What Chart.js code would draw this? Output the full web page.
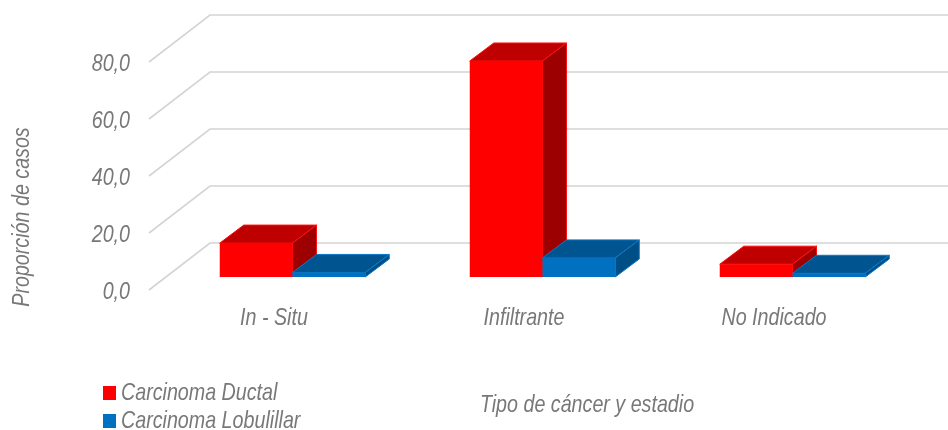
<!DOCTYPE html>
<html><head><meta charset="utf-8">
<style>html,body{margin:0;padding:0;background:#fff}canvas{display:block}</style>
<script src="https://cdn.jsdelivr.net/npm/chart.js@4"></script>
</head><body><canvas id="c" width="948" height="430"></canvas>
<script>
const categories = ["In - Situ", "Infiltrante", "No Indicado"];
const ductal = [11.9, 75.8, 4.5];
const lobulillar = [1.6, 6.7, 1.3];
const yTicks = [0, 20, 40, 60, 80];
const seriesNames = ["Carcinoma Ductal", "Carcinoma Lobulillar"];
const yTitle = "Proporción de casos";
const xTitle = "Tipo de cáncer y estadio";

const FONT = '"Liberation Sans",sans-serif';
const GREY = '#787878';
const NARROW = 0.82;
const shades = [
  {front:'#ff0000', top:'#bf0000', side:'#9c0000', edge:'#ff1010'},
  {front:'#0070c0', top:'#00548f', side:'#004e86', edge:'#0a78c8'}
];
const plane = {dx:18.5, dy:-13};
const wall = {dx:61, dy:-47};
const depth = {dx:24, dy:-18};

const poly = (ctx, pts, fill, edge) => {
  ctx.beginPath();
  pts.forEach((p,i)=> i ? ctx.lineTo(p[0],p[1]) : ctx.moveTo(p[0],p[1]));
  ctx.closePath();
  ctx.fillStyle = fill; ctx.fill();
  ctx.strokeStyle = edge; ctx.lineWidth = 1; ctx.stroke();
};

const canvas = document.getElementById('c');
const rawCtx = canvas.getContext('2d');
const rawFill = rawCtx.fillText.bind(rawCtx);
rawCtx.fillText = (t,x,y) => {
  rawCtx.save();
  rawCtx.translate(x,y);
  rawCtx.scale(NARROW,1);
  rawFill(t,0,0);
  rawCtx.restore();
};

const scene = {
  id:'scene',
  beforeDatasetsDraw(chart){
    const {ctx, chartArea:a, scales:{y}} = chart;
    ctx.save();
    ctx.strokeStyle = '#d4d4d4'; ctx.lineWidth = 1.6;
    yTicks.forEach(v=>{
      const py = y.getPixelForValue(v);
      ctx.beginPath();
      ctx.moveTo(a.left, py);
      ctx.lineTo(a.left+wall.dx, py+wall.dy);
      ctx.lineTo(chart.width, py+wall.dy);
      ctx.stroke();
    });
    ctx.restore();
  },
  beforeDatasetDraw(){ return false; },
  afterDatasetsDraw(chart){
    const {ctx} = chart;
    ctx.save();
    ctx.translate(plane.dx, plane.dy);
    chart.data.datasets.forEach((d,i)=>{
      const s = shades[i];
      chart.getDatasetMeta(i).data.forEach(b=>{
        const l=b.x-b.width/2, r=b.x+b.width/2, t=b.y, f=b.base;
        poly(ctx,[[l,t],[l+depth.dx,t+depth.dy],[r+depth.dx,t+depth.dy],[r,t]],s.top,s.edge);
        poly(ctx,[[r,t],[r+depth.dx,t+depth.dy],[r+depth.dx,f+depth.dy],[r,f]],s.side,s.edge);
        b.draw(ctx);
      });
    });
    ctx.restore();
  },
  afterDraw(chart){
    const {ctx} = chart;
    ctx.save();
    ctx.fillStyle = GREY;
    ctx.font = 'italic 24px '+FONT;
    ctx.textBaseline = 'middle';
    ctx.textAlign = 'center';
    ctx.fillText(xTitle, 587, 405);
    ctx.textAlign = 'left';
    const rows = [393, 421];
    chart.data.datasets.forEach((d,i)=>{
      ctx.fillStyle = d.backgroundColor;
      ctx.fillRect(103, rows[i]-7, 13, 14);
      ctx.fillStyle = GREY;
      ctx.fillText(d.label, 121, rows[i]);
    });
    ctx.translate(22, 217);
    ctx.rotate(-Math.PI/2);
    ctx.textAlign = 'center';
    ctx.fillText(yTitle, 0, 0);
    ctx.restore();
  }
};

new Chart(canvas, {
  type:'bar',
  data:{labels:categories, datasets:[
    {label:seriesNames[0], data:ductal, backgroundColor:shades[0].front, clip:false},
    {label:seriesNames[1], data:lobulillar, backgroundColor:shades[1].front, clip:false}
  ]},
  options:{
    responsive:false, animation:false,
    layout:{padding:{top:62,right:49,left:0,bottom:0}},
    categoryPercentage:0.582, barPercentage:1,
    plugins:{legend:{display:false},tooltip:{enabled:false},title:{display:false}},
    scales:{
      x:{grid:{display:false},border:{display:false},
         ticks:{color:GREY,font:{family:FONT,size:24,style:'italic'},padding:6,maxRotation:0},
         afterFit(s){s.height=140;}},
      y:{min:0,max:80,grid:{display:false},border:{display:false},
         afterBuildTicks(s){s.ticks=yTicks.map(v=>({value:v}));},
         ticks:{color:GREY,font:{family:FONT,size:24,style:'italic'},padding:11,labelOffset:2,
                callback:v=>v.toFixed(1).replace('.',',')},
         afterFit(s){s.width=149;}}
    }
  },
  plugins:[scene]
});
</script></body></html>
